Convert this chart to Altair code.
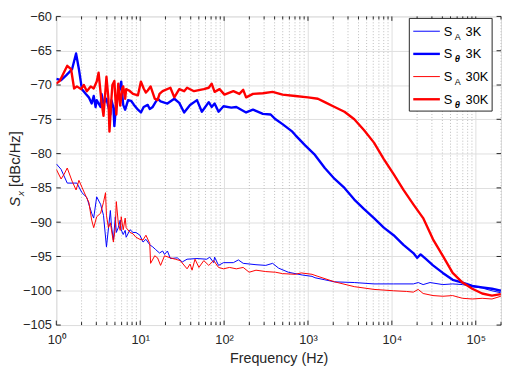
import altair as alt
import pandas as pd

# ---------------- data ----------------
f_theta_3k = [1.00, 1.14, 1.31, 1.54, 1.72, 1.86, 2.02, 2.25, 2.44, 2.64, 2.79, 2.94, 3.03, 3.37, 3.46,
              3.65, 3.96, 4.18, 4.41, 4.54, 4.79, 4.92, 5.19, 5.78, 5.94, 6.27, 6.62, 7.17, 7.78, 8.44,
              9.40, 10.2, 11.0, 12.3, 13.0, 14.1, 16.1, 17.5, 21.1, 25.5, 29.2, 33.4, 39.3, 47.5, 54.3,
              65.6, 71.1, 77.1, 85.9, 98.4, 122, 140, 160, 183, 221, 290, 359, 411, 497, 651, 706, 925,
              1211, 1586, 2078, 2722, 3565, 4670, 6118, 8013, 10497, 13750, 18030, 20000, 22000, 25590,
              30930, 40500, 53050, 69500, 91000, 119200, 156000, 199000]
s_theta_3k = [-69.1, -69.3, -68.6, -67.7, -65.4, -67.7, -70.6, -71.3, -71.8, -72.7, -71.6, -73.2, -72.2,
              -73.2, -71.3, -72.7, -72.0, -73.2, -74.3, -72.2, -73.3, -76.0, -72.5, -70.2, -69.5, -72.9,
              -73.6, -72.2, -72.3, -72.9, -73.6, -74.0, -73.2, -72.9, -73.5, -73.2, -72.0, -72.4, -72.7,
              -72.0, -72.6, -74.0, -72.9, -72.2, -73.9, -72.5, -73.2, -72.7, -73.9, -73.1, -73.3, -73.2,
              -73.6, -74.0, -73.6, -74.2, -74.3, -75.0, -75.7, -76.8, -77.3, -78.8, -80.2, -82.1, -83.7,
              -85.0, -86.7, -88.1, -89.4, -90.8, -91.9, -93.3, -94.5, -95.2, -94.7, -95.4, -96.3, -97.4,
              -98.4, -98.8, -99.3, -99.5, -99.7, -100.0]

f_theta_30k = [1.00, 1.10, 1.24, 1.35, 1.50, 1.63, 1.76, 1.97, 2.13, 2.31, 2.57, 2.79, 3.03, 3.19, 3.46,
               3.65, 3.96, 4.18, 4.30, 4.54, 4.66, 4.92, 5.19, 5.48, 5.78, 6.10, 6.27, 6.62, 6.80, 7.37,
               8.21, 9.40, 10.2, 11.0, 11.7, 12.3, 13.3, 14.9, 16.1, 17.0, 18.5, 22.9, 25.5, 29.2, 33.4,
               36.2, 43.8, 57.3, 65.6, 71.1, 77.1, 88.3, 101, 129, 152, 169, 183, 221, 290, 379, 497,
               706, 1002, 1313, 1586, 2078, 2722, 3565, 4670, 6118, 8013, 10497, 13750, 18030, 23600,
               30930, 40500, 53050, 69500, 91000, 119200, 156000, 199000]
s_theta_30k = [-69.8, -69.4, -68.1, -67.2, -67.7, -70.5, -70.2, -70.6, -70.0, -70.9, -70.2, -70.5, -69.5,
               -68.2, -72.5, -74.5, -68.8, -72.0, -76.8, -72.0, -70.0, -69.4, -74.3, -69.8, -73.0, -70.5,
               -70.2, -72.0, -70.6, -70.8, -71.3, -71.5, -69.5, -70.5, -71.1, -70.8, -70.2, -72.0, -72.2,
               -71.3, -70.9, -70.4, -71.8, -70.6, -70.9, -70.4, -70.9, -70.6, -70.4, -69.8, -71.0, -70.6,
               -71.4, -70.9, -71.3, -70.7, -71.8, -71.3, -71.2, -71.0, -71.4, -71.6, -71.8, -72.0, -72.5,
               -73.2, -73.9, -75.0, -76.6, -78.4, -80.8, -83.0, -85.3, -87.4, -89.4, -92.5, -94.9, -97.4,
               -98.8, -99.7, -100.4, -100.7, -100.5]

f_a_3k = [1.00, 1.14, 1.35, 1.63, 1.76, 2.02, 2.31, 2.64, 2.79, 3.03, 3.37, 3.65, 3.96, 4.41, 4.54, 4.79,
          5.05, 5.19, 5.48, 5.78, 5.94, 6.27, 6.62, 6.80, 7.57, 8.21, 8.90, 9.92, 10.8, 11.7, 13.0, 14.1,
          15.3, 17.0, 18.5, 19.5, 21.1, 22.9, 27.7, 31.7, 36.2, 47.5, 62.2, 67.4, 75.1, 77.1, 85.9, 98.4,
          129, 148, 169, 240, 314, 379, 446, 584, 853, 1117, 1211, 1586, 2078, 3565, 6118, 10497, 18030,
          20610, 23600, 28500, 40500, 53050, 69500, 91000, 119200, 156000, 199000]
s_a_3k = [-81.5, -82.3, -84.3, -84.3, -84.3, -85.7, -86.4, -88.7, -89.4, -86.3, -87.4, -89.0, -93.6, -88.3,
          -90.5, -92.6, -89.2, -91.5, -90.8, -89.7, -91.1, -91.8, -91.2, -92.2, -91.1, -91.5, -91.5, -91.9,
          -92.9, -92.5, -93.3, -93.6, -94.0, -94.5, -94.2, -94.7, -94.2, -95.3, -95.2, -95.8, -95.4, -95.3,
          -95.4, -95.1, -95.9, -95.1, -96.3, -95.9, -95.9, -95.5, -96.0, -96.2, -96.3, -96.0, -96.7, -97.3,
          -97.7, -97.9, -98.1, -98.4, -98.7, -98.8, -99.0, -99.0, -99.0, -98.8, -99.1, -98.8, -99.1, -99.0,
          -99.1, -99.4, -99.6, -100.0, -100.3]

f_a_30k = [1.00, 1.14, 1.24, 1.35, 1.54, 1.72, 1.86, 2.02, 2.25, 2.44, 2.64, 2.79, 3.03, 3.37, 3.65, 3.86,
           3.96, 4.18, 4.41, 4.79, 5.05, 5.19, 5.48, 5.78, 5.94, 6.27, 6.62, 6.80, 7.57, 8.21, 8.90, 9.92,
           10.8, 11.7, 13.0, 13.3, 14.9, 16.1, 17.5, 19.5, 22.9, 26.2, 30.0, 36.2, 39.3, 41.5, 45.0, 50.1,
           57.3, 65.6, 75.1, 85.9, 98.4, 116, 140, 169, 199, 240, 314, 411, 497, 706, 830, 1117, 1313,
           2078, 3565, 6118, 10497, 14920, 18030, 20610, 23600, 30930, 40500, 53050, 69500, 91000, 119200,
           156000, 199000]
s_a_30k = [-82.3, -83.7, -83.0, -82.1, -84.0, -85.3, -83.9, -84.9, -86.2, -87.1, -89.7, -90.8, -89.2, -88.7,
           -87.1, -85.7, -89.0, -90.8, -90.1, -92.9, -90.8, -87.0, -90.1, -91.2, -89.2, -91.1, -89.4, -90.8,
           -91.5, -91.7, -92.2, -92.5, -92.6, -91.9, -93.1, -96.0, -94.9, -95.2, -96.3, -94.9, -95.2, -95.4,
           -95.6, -96.8, -96.1, -97.0, -95.4, -96.6, -95.6, -96.3, -95.6, -96.6, -96.8, -96.6, -96.8, -96.6,
           -97.3, -97.0, -97.2, -97.3, -97.5, -97.6, -97.4, -97.6, -97.9, -98.7, -99.4, -99.8, -100.0,
           -100.1, -100.2, -99.8, -100.4, -100.7, -100.8, -100.7, -101.1, -101.2, -101.1, -101.2, -100.8]

x_major = [1, 10, 100, 1000, 10000, 100000]
x_minor = [m * 10 ** k for k in range(6) for m in range(2, 10) if m * 10 ** k <= 200000]
y_ticks = [-105, -100, -95, -90, -85, -80, -75, -70, -65, -60]

legend_sub = ["A", "θ", "A", "θ"]
legend_rest = ["3K", "3K", "30K", "30K"]
legend_color = ["#0000ff", "#0000ff", "#ff0000", "#ff0000"]
legend_width = [1.0, 2.4, 1.0, 2.4]

# ---------------- layout ----------------
W, H = 451, 313
FONT = "Liberation Sans"
AX = "#262626"

xs = alt.Scale(type="log", domain=[1, 200000], nice=False)
ys = alt.Scale(domain=[-105, -60], nice=False)

sup = "['\u2070','\u00b9','\u00b2','\u00b3','\u2074','\u2075']"

x_axis = alt.Axis(
    values=x_major, title="Frequency (Hz)", grid=True, gridColor="#dedede", gridWidth=1,
    ticks=False, domain=False, labelFont=FONT, labelFontSize=13, labelColor=AX,
    labelPadding=9, labelExpr="'10' + " + sup + "[round(log(datum.value)/LN10)]",
    labelFlush=False, titleFont=FONT, titleFontSize=14.5, titleFontWeight="normal",
    titleColor=AX, titleY=38, titleBaseline="alphabetic")
y_axis = alt.Axis(
    values=y_ticks, title=None, grid=True, gridColor="#dedede", gridWidth=1,
    ticks=False, domain=False, labelFont=FONT, labelFontSize=13, labelColor=AX,
    labelPadding=5, labelFlush=False)


def X():
    return alt.X("f:Q", scale=xs, axis=x_axis)


def Y():
    return alt.Y("s:Q", scale=ys, axis=y_axis)


def series(f, s, color, width):
    df = pd.DataFrame({"f": f, "s": s})
    return alt.Chart(df).mark_line(color=color, strokeWidth=width, clip=True,
                                   strokeJoin="round").encode(x=X(), y=Y())


minor_grid = alt.Chart(pd.DataFrame({"f": x_minor})).mark_rule(
    color="#bdbdbd", strokeDash=[1, 2], strokeWidth=1).encode(
    x=X(), y=alt.value(0), y2=alt.value(H))

tick_major_b = alt.Chart(pd.DataFrame({"f": x_major})).mark_rule(color=AX).encode(
    x=X(), y=alt.value(H), y2=alt.value(H - 4.5))
tick_major_t = alt.Chart(pd.DataFrame({"f": x_major})).mark_rule(color=AX).encode(
    x=X(), y=alt.value(0), y2=alt.value(4.5))
tick_minor_b = alt.Chart(pd.DataFrame({"f": x_minor})).mark_rule(color=AX).encode(
    x=X(), y=alt.value(H), y2=alt.value(H - 3))
tick_minor_t = alt.Chart(pd.DataFrame({"f": x_minor})).mark_rule(color=AX).encode(
    x=X(), y=alt.value(0), y2=alt.value(3))
tick_y_l = alt.Chart(pd.DataFrame({"s": y_ticks})).mark_rule(color=AX).encode(
    y=Y(), x=alt.value(0), x2=alt.value(4.5))
tick_y_r = alt.Chart(pd.DataFrame({"s": y_ticks})).mark_rule(color=AX).encode(
    y=Y(), x=alt.value(W), x2=alt.value(W - 4.5))

# y-axis title: italic S, subscript x, [dBc/Hz]
TX = -37
yt_S = alt.Chart(pd.DataFrame({"t": ["S"]})).mark_text(
    angle=270, align="left", baseline="alphabetic", font=FONT, fontSize=15,
    fontStyle="italic", color=AX).encode(text="t:N", x=alt.value(TX), y=alt.value(193))
yt_x = alt.Chart(pd.DataFrame({"t": ["x"]})).mark_text(
    angle=270, align="left", baseline="alphabetic", font=FONT, fontSize=10,
    fontStyle="italic", color=AX).encode(text="t:N", x=alt.value(TX + 4), y=alt.value(182))
yt_rest = alt.Chart(pd.DataFrame({"t": ["[dBc/Hz]"]})).mark_text(
    angle=270, align="left", baseline="alphabetic", font=FONT, fontSize=15,
    color=AX).encode(text="t:N", x=alt.value(TX), y=alt.value(173))

# legend
leg_df = pd.DataFrame({"sub": legend_sub, "rest": legend_rest, "col": legend_color,
                       "sw": legend_width, "row": list(range(len(legend_sub)))})
leg_base = alt.Chart(leg_df).transform_calculate(
    ly="15 + 23 * datum.row", ty="19.5 + 23 * datum.row", sy="23.5 + 23 * datum.row")
leg_box = alt.Chart(pd.DataFrame({"a": [0]})).mark_rect(
    fill="white", stroke=AX, strokeWidth=1).encode(
    x=alt.value(358), x2=alt.value(442), y=alt.value(2), y2=alt.value(96))
leg_lines = leg_base.mark_rule().encode(
    x=alt.value(362), x2=alt.value(389), y=alt.Y("ly:Q", scale=None),
    color=alt.Color("col:N", scale=None), strokeWidth=alt.StrokeWidth("sw:Q", scale=None))
leg_S = leg_base.mark_text(align="left", baseline="alphabetic", font=FONT, fontSize=13,
                           color="black").encode(
    x=alt.value(393), y=alt.Y("ty:Q", scale=None), text=alt.value("S"))
leg_subA = leg_base.transform_filter("datum.sub == 'A'").mark_text(
    align="left", baseline="alphabetic", font=FONT, fontSize=9, color="black").encode(
    x=alt.value(404), y=alt.Y("sy:Q", scale=None), text="sub:N")
leg_subT = leg_base.transform_filter("datum.sub != 'A'").mark_text(
    align="left", baseline="alphabetic", font=FONT, fontSize=9.5, fontStyle="italic",
    fontWeight="bold", color="black").encode(
    x=alt.value(404), y=alt.Y("sy:Q", scale=None), text="sub:N")
leg_rest = leg_base.mark_text(align="left", baseline="alphabetic", font=FONT, fontSize=13,
                              color="black").encode(
    x=alt.value(415), y=alt.Y("ty:Q", scale=None), text="rest:N")

chart = alt.layer(
    minor_grid,
    tick_major_b, tick_major_t, tick_minor_b, tick_minor_t, tick_y_l, tick_y_r,
    series(f_a_3k, s_a_3k, "#0000ff", 1.0),
    series(f_theta_3k, s_theta_3k, "#0000ff", 2.4),
    series(f_a_30k, s_a_30k, "#ff0000", 1.0),
    series(f_theta_30k, s_theta_30k, "#ff0000", 2.4),
    yt_S, yt_x, yt_rest,
    leg_box, leg_lines, leg_S, leg_subA, leg_subT, leg_rest,
).properties(
    width=W, height=H,
    autosize=alt.AutoSizeParams(type="none"),
    padding={"left": 49, "top": 6, "right": 1, "bottom": 41},
).configure_view(stroke=AX, strokeWidth=1).configure(background="white")

chart.save("out.html", embed_options={"renderer": "svg", "actions": False})
